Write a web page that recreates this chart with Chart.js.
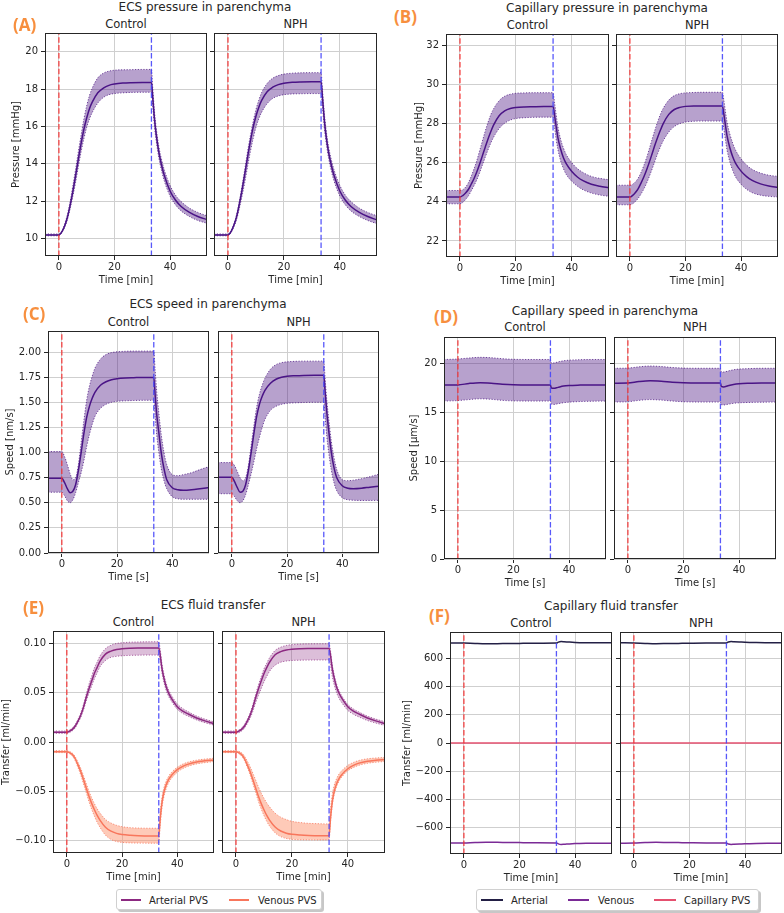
<!DOCTYPE html>
<html>
<head>
<meta charset="utf-8">
<title>Parenchyma pressure, speed and fluid transfer</title>
<script src="https://cdn.jsdelivr.net/npm/chart.js@4.4.1/dist/chart.umd.min.js"></script>
<style>
  body { margin: 0; background: #fff; font-family: 'DejaVu Sans', sans-serif; color: #262626; }
  #fig { position: relative; width: 784px; height: 913px; overflow: hidden; background: #fff; }
  canvas { position: absolute; }
  .txt { position: absolute; white-space: nowrap; transform: translate(-50%, -50%); }
  .title { font-size: 12px; }
  .sub { font-size: 11.5px; }
  .letter { font-family: 'Open Sans', sans-serif; font-weight: 700; font-size: 17px; color: #f78f3e; transform: translate(0, -50%); }
  .legend { position: absolute; background: #fff; border: 1px solid #d0d0d0; border-radius: 3px; box-shadow: 2px 2px 0 rgba(0,0,0,0.22); font-size: 10px; }
  .legend .sw { position: absolute; height: 2px; top: 50%; margin-top: -1px; }
  .legend .lab { position: absolute; top: 50%; transform: translate(0, -50%); white-space: nowrap; }
</style>
</head>
<body>
<div id="fig"></div>
<script>
// time grid (min or s) shared by panels A, B, C, E
const T = [-5, 0, 1, 2, 3, 4, 5, 6, 7, 8, 9, 10, 11, 12,
           14, 16, 18, 20, 23, 26, 30, 33.3,
           33.8, 34.4, 35, 36, 37, 38, 40, 42, 44, 47, 50, 53.3];
const T_D = [-5, 0, 4, 8, 12, 16, 20, 26, 33.3, 33.6, 34.5, 36, 38, 40, 44, 48, 53.3];
const T_F = [-5, 0, 4, 8, 12, 16, 20, 26, 33.3, 34, 35, 36, 38, 40, 44, 48, 53.3];

const STIM_ON = 0;
const STIM_OFF = 33.3;
const X_RANGE = [-5, 53.3];
const X_TICKS = [0, 20, 40];

// (A) ECS pressure [mmHg]
const A_Y_RANGE = [9.07, 21.0];
const A_Y_TICKS = [10, 12, 14, 16, 18, 20];
const A_CTRL_MEAN = [10.2, 10.2, 10.35, 10.65, 11.1, 11.75, 12.5, 13.35, 14.25, 15.1, 15.85, 16.45, 16.95, 17.3,
  17.8, 18.05, 18.2, 18.27, 18.32, 18.34, 18.35, 18.35,
  17.5, 16.4, 15.6, 14.6, 13.9, 13.35, 12.55, 12.05, 11.72, 11.4, 11.18, 11.02];
const A_CTRL_UP = [10.25, 10.25, 10.4, 10.75, 11.25, 11.95, 12.8, 13.7, 14.65, 15.55, 16.4, 17.1, 17.65, 18.05,
  18.6, 18.85, 18.96, 19.01, 19.03, 19.04, 19.05, 19.05,
  18.0, 16.8, 15.95, 14.9, 14.2, 13.65, 12.85, 12.32, 11.98, 11.63, 11.4, 11.22];
const A_CTRL_LO = [10.15, 10.15, 10.3, 10.58, 10.98, 11.57, 12.25, 13.0, 13.85, 14.65, 15.35, 15.95, 16.4, 16.75,
  17.25, 17.55, 17.7, 17.76, 17.8, 17.82, 17.83, 17.83,
  17.05, 16.0, 15.25, 14.3, 13.6, 13.05, 12.28, 11.8, 11.48, 11.18, 10.97, 10.82];
const A_NPH_MEAN = [10.2, 10.2, 10.35, 10.67, 11.12, 11.8, 12.58, 13.45, 14.35, 15.2, 15.95, 16.55, 17.02, 17.38,
  17.86, 18.1, 18.24, 18.31, 18.36, 18.38, 18.39, 18.39,
  17.55, 16.45, 15.6, 14.6, 13.9, 13.35, 12.55, 12.05, 11.72, 11.4, 11.18, 11.0];
const A_NPH_UP = [10.25, 10.25, 10.4, 10.75, 11.25, 11.95, 12.8, 13.7, 14.65, 15.5, 16.25, 16.9, 17.4, 17.8,
  18.3, 18.58, 18.72, 18.8, 18.85, 18.87, 18.88, 18.88,
  17.95, 16.8, 15.95, 14.9, 14.2, 13.65, 12.85, 12.32, 11.98, 11.63, 11.4, 11.22];
const A_NPH_LO = [10.15, 10.15, 10.3, 10.58, 10.98, 11.57, 12.25, 13.0, 13.85, 14.65, 15.35, 15.95, 16.4, 16.75,
  17.22, 17.5, 17.63, 17.7, 17.74, 17.75, 17.76, 17.76,
  17.05, 16.0, 15.25, 14.3, 13.6, 13.05, 12.28, 11.8, 11.48, 11.18, 10.97, 10.8];

// (B) capillary pressure [mmHg]
const B_Y_RANGE = [21.18, 32.58];
const B_Y_TICKS = [22, 24, 26, 28, 30, 32];
const B_CTRL_MEAN = [24.25, 24.25, 24.32, 24.45, 24.63, 24.9, 25.18, 25.52, 25.92, 26.35, 26.78, 27.2, 27.58, 27.92,
  28.4, 28.65, 28.77, 28.82, 28.85, 28.86, 28.87, 28.87,
  28.45, 27.85, 27.3, 26.7, 26.25, 25.95, 25.55, 25.27, 25.08, 24.9, 24.8, 24.72];
const B_CTRL_UP = [24.58, 24.58, 24.62, 24.75, 24.98, 25.3, 25.68, 26.1, 26.6, 27.1, 27.6, 28.05, 28.45, 28.75,
  29.17, 29.4, 29.5, 29.55, 29.57, 29.58, 29.58, 29.58,
  29.1, 28.45, 27.85, 27.2, 26.75, 26.42, 26.0, 25.7, 25.5, 25.3, 25.2, 25.13];
const B_CTRL_LO = [23.9, 23.9, 23.97, 24.12, 24.3, 24.55, 24.82, 25.12, 25.48, 25.87, 26.27, 26.65, 27.0, 27.3,
  27.75, 28.02, 28.18, 28.26, 28.3, 28.32, 28.33, 28.33,
  27.85, 27.2, 26.7, 26.1, 25.7, 25.4, 25.05, 24.8, 24.62, 24.45, 24.35, 24.28];
const B_NPH_MEAN = [24.25, 24.25, 24.33, 24.48, 24.68, 24.96, 25.27, 25.63, 26.03, 26.46, 26.9, 27.3, 27.67, 28.0,
  28.47, 28.72, 28.83, 28.88, 28.9, 28.9, 28.9, 28.9,
  28.5, 27.9, 27.35, 26.75, 26.3, 25.98, 25.57, 25.29, 25.1, 24.92, 24.81, 24.73];
const B_NPH_UP = [24.85, 24.85, 24.9, 25.02, 25.22, 25.5, 25.85, 26.25, 26.72, 27.2, 27.67, 28.1, 28.48, 28.78,
  29.2, 29.43, 29.53, 29.57, 29.59, 29.6, 29.6, 29.6,
  29.2, 28.6, 28.05, 27.45, 27.0, 26.65, 26.2, 25.88, 25.66, 25.47, 25.36, 25.3];
const B_NPH_LO = [23.85, 23.85, 23.9, 24.02, 24.18, 24.4, 24.65, 24.95, 25.3, 25.68, 26.08, 26.47, 26.82, 27.12,
  27.57, 27.85, 28.0, 28.08, 28.12, 28.13, 28.13, 28.13,
  27.75, 27.15, 26.62, 26.03, 25.6, 25.28, 24.9, 24.64, 24.47, 24.34, 24.28, 24.25];

// (C) ECS speed [nm/s]
const C_Y_RANGE = [0, 2.21];
const C_Y_TICKS = [0, 0.25, 0.5, 0.75, 1.0, 1.25, 1.5, 1.75, 2.0];
const C_CTRL_MEAN = [0.745, 0.745, 0.7, 0.64, 0.6, 0.615, 0.68, 0.82, 1.0, 1.19, 1.35, 1.46, 1.54, 1.6,
  1.67, 1.705, 1.725, 1.735, 1.742, 1.745, 1.748, 1.748,
  1.57, 1.37, 1.23, 1.0, 0.84, 0.73, 0.65, 0.63, 0.625, 0.63, 0.64, 0.652];
const C_CTRL_UP = [1.01, 1.01, 0.96, 0.88, 0.79, 0.73, 0.75, 0.88, 1.1, 1.32, 1.52, 1.66, 1.76, 1.84,
  1.93, 1.975, 1.995, 2.003, 2.008, 2.01, 2.01, 2.01,
  1.82, 1.6, 1.43, 1.18, 1.0, 0.88, 0.78, 0.77, 0.78, 0.8, 0.83, 0.86];
const C_CTRL_LO = [0.605, 0.605, 0.57, 0.52, 0.5, 0.53, 0.6, 0.7, 0.8, 0.92, 1.06, 1.18, 1.28, 1.36,
  1.44, 1.48, 1.5, 1.51, 1.515, 1.518, 1.52, 1.52,
  1.36, 1.17, 1.03, 0.84, 0.72, 0.64, 0.56, 0.54, 0.535, 0.535, 0.535, 0.535];
const C_NPH_MEAN = [0.755, 0.755, 0.71, 0.65, 0.605, 0.615, 0.68, 0.82, 1.0, 1.19, 1.36, 1.48, 1.56, 1.62,
  1.69, 1.73, 1.75, 1.76, 1.765, 1.768, 1.77, 1.77,
  1.6, 1.4, 1.24, 1.01, 0.85, 0.75, 0.67, 0.645, 0.64, 0.645, 0.655, 0.665];
const C_NPH_UP = [0.9, 0.9, 0.87, 0.81, 0.75, 0.72, 0.75, 0.87, 1.07, 1.27, 1.45, 1.58, 1.67, 1.74,
  1.83, 1.875, 1.895, 1.903, 1.908, 1.91, 1.91, 1.91,
  1.73, 1.52, 1.36, 1.12, 0.95, 0.83, 0.73, 0.72, 0.725, 0.74, 0.76, 0.785];
const C_NPH_LO = [0.59, 0.59, 0.56, 0.52, 0.5, 0.52, 0.58, 0.68, 0.79, 0.91, 1.04, 1.15, 1.25, 1.33,
  1.42, 1.46, 1.48, 1.49, 1.495, 1.498, 1.5, 1.5,
  1.35, 1.16, 1.02, 0.83, 0.7, 0.62, 0.55, 0.53, 0.525, 0.523, 0.523, 0.524];

// (D) capillary speed [um/s]
const D_Y_RANGE = [0, 22.7];
const D_Y_TICKS = [0, 5, 10, 15, 20];
const D_CTRL_MEAN = [17.8, 17.8, 17.95, 18.03, 17.98, 17.88, 17.82, 17.8, 17.8, 17.5, 17.45, 17.55, 17.68, 17.74, 17.78, 17.8, 17.8];
const D_CTRL_UP = [20.4, 20.45, 20.55, 20.62, 20.58, 20.48, 20.42, 20.4, 20.4, 20.05, 20.05, 20.15, 20.27, 20.33, 20.38, 20.4, 20.4];
const D_CTRL_LO = [16.15, 16.2, 16.3, 16.38, 16.33, 16.22, 16.17, 16.15, 16.15, 15.85, 15.8, 15.88, 15.98, 16.04, 16.1, 16.13, 16.15];
const D_NPH_MEAN = [17.98, 18.0, 18.15, 18.23, 18.18, 18.08, 18.02, 18.0, 18.0, 17.65, 17.6, 17.72, 17.85, 17.92, 17.97, 18.0, 18.0];
const D_NPH_UP = [19.5, 19.52, 19.65, 19.73, 19.68, 19.58, 19.52, 19.5, 19.5, 19.15, 19.12, 19.22, 19.35, 19.42, 19.47, 19.5, 19.5];
const D_NPH_LO = [16.05, 16.08, 16.22, 16.3, 16.25, 16.15, 16.08, 16.05, 16.05, 15.78, 15.75, 15.82, 15.92, 15.97, 16.01, 16.03, 16.05];

// (E) ECS fluid transfer [ml/min]
const E_Y_RANGE = [-0.113, 0.113];
const E_Y_TICKS = [-0.1, -0.05, 0, 0.05, 0.1];
const E_CTRL_ART_MEAN = [0.01, 0.01, 0.011, 0.0128, 0.016, 0.021, 0.027, 0.035, 0.045, 0.054, 0.062, 0.07, 0.076, 0.082,
  0.0895, 0.0925, 0.0942, 0.095, 0.0955, 0.0957, 0.0958, 0.0958,
  0.089, 0.076, 0.067, 0.056, 0.049, 0.044, 0.036, 0.0315, 0.0285, 0.0245, 0.0215, 0.0188];
const E_CTRL_ART_UP = [0.0112, 0.0112, 0.0123, 0.0142, 0.0177, 0.0228, 0.0293, 0.0378, 0.0485, 0.0585, 0.067, 0.0755, 0.0815, 0.0875,
  0.095, 0.0985, 0.1003, 0.101, 0.1016, 0.1018, 0.102, 0.102,
  0.0945, 0.0805, 0.0713, 0.0597, 0.0523, 0.047, 0.0388, 0.034, 0.0308, 0.0265, 0.0233, 0.0205];
const E_CTRL_ART_LO = [0.0088, 0.0088, 0.0097, 0.0114, 0.0143, 0.0192, 0.0247, 0.0322, 0.0415, 0.0495, 0.057, 0.0645, 0.0705, 0.0765,
  0.083, 0.0862, 0.0872, 0.0878, 0.0882, 0.0884, 0.0885, 0.0885,
  0.0835, 0.0715, 0.0628, 0.0523, 0.0457, 0.041, 0.0333, 0.029, 0.0262, 0.0225, 0.0197, 0.0172];
const E_CTRL_VEN_MEAN = [-0.0098, -0.0098, -0.0108, -0.0128, -0.0168, -0.023, -0.0298, -0.038, -0.0465, -0.055, -0.0625, -0.069, -0.0748, -0.0795,
  -0.0868, -0.0908, -0.093, -0.0942, -0.095, -0.0954, -0.0956, -0.0956,
  -0.079, -0.063, -0.053, -0.0435, -0.0375, -0.0337, -0.0282, -0.0248, -0.0225, -0.0204, -0.0192, -0.0182];
const E_CTRL_VEN_UP = [-0.0088, -0.0088, -0.0096, -0.0113, -0.0148, -0.0203, -0.0265, -0.034, -0.042, -0.0498, -0.0568, -0.0628, -0.068, -0.0722,
  -0.0788, -0.0825, -0.0848, -0.0862, -0.0872, -0.0876, -0.0878, -0.0878,
  -0.0725, -0.0578, -0.0485, -0.0398, -0.0343, -0.0307, -0.0257, -0.0225, -0.0204, -0.0185, -0.0174, -0.0165];
const E_CTRL_VEN_LO = [-0.0108, -0.0108, -0.012, -0.0143, -0.0188, -0.0257, -0.0332, -0.0422, -0.0512, -0.0605, -0.0685, -0.0755, -0.0818, -0.0868,
  -0.0948, -0.0992, -0.1013, -0.1022, -0.1027, -0.1029, -0.103, -0.103,
  -0.0855, -0.0683, -0.0577, -0.0473, -0.0408, -0.0367, -0.0307, -0.0271, -0.0246, -0.0223, -0.021, -0.0199];
const E_NPH_ART_MEAN = [0.01, 0.01, 0.011, 0.0128, 0.016, 0.021, 0.027, 0.035, 0.0448, 0.0538, 0.0618, 0.0695, 0.0757, 0.0812,
  0.0888, 0.092, 0.0937, 0.0945, 0.095, 0.0952, 0.0953, 0.0953,
  0.0885, 0.0757, 0.0668, 0.0558, 0.0489, 0.0439, 0.036, 0.0315, 0.0285, 0.0245, 0.0215, 0.0188];
const E_NPH_ART_UP = [0.0112, 0.0112, 0.0123, 0.0142, 0.0177, 0.0228, 0.0292, 0.0376, 0.048, 0.0578, 0.0662, 0.0743, 0.0802, 0.0858,
  0.0932, 0.0965, 0.0983, 0.0991, 0.0997, 0.0999, 0.1, 0.1,
  0.0928, 0.0793, 0.0702, 0.0588, 0.0515, 0.0463, 0.0382, 0.0336, 0.0305, 0.0264, 0.0233, 0.0206];
const E_NPH_ART_LO = [0.0088, 0.0088, 0.0096, 0.0112, 0.014, 0.0186, 0.0239, 0.031, 0.0398, 0.0473, 0.0543, 0.0612, 0.0668, 0.072,
  0.0782, 0.0812, 0.0824, 0.083, 0.0833, 0.0834, 0.0835, 0.0835,
  0.0788, 0.0676, 0.0597, 0.0501, 0.0438, 0.0394, 0.0322, 0.0282, 0.0255, 0.0219, 0.0193, 0.0168];
const E_NPH_VEN_MEAN = [-0.0098, -0.0098, -0.0108, -0.0128, -0.0168, -0.023, -0.0298, -0.038, -0.0465, -0.055, -0.0625, -0.069, -0.0748, -0.0795,
  -0.0866, -0.0906, -0.0928, -0.094, -0.0948, -0.0952, -0.0954, -0.0954,
  -0.078, -0.062, -0.052, -0.0425, -0.0365, -0.0327, -0.0272, -0.0238, -0.0215, -0.0196, -0.0186, -0.0178];
const E_NPH_VEN_UP = [-0.0088, -0.0088, -0.0095, -0.011, -0.0142, -0.0192, -0.0248, -0.0315, -0.0385, -0.0455, -0.0518, -0.0572, -0.062, -0.066,
  -0.0725, -0.0765, -0.079, -0.0808, -0.082, -0.0828, -0.0832, -0.0834,
  -0.0682, -0.0542, -0.0455, -0.0372, -0.032, -0.0287, -0.0238, -0.0208, -0.0188, -0.0171, -0.0163, -0.0157];
const E_NPH_VEN_LO = [-0.0108, -0.0108, -0.012, -0.0143, -0.0188, -0.0255, -0.033, -0.042, -0.051, -0.0602, -0.068, -0.0748, -0.0808, -0.0855,
  -0.0925, -0.0963, -0.0982, -0.0991, -0.0995, -0.0996, -0.0997, -0.0997,
  -0.0818, -0.0655, -0.0552, -0.0453, -0.039, -0.035, -0.0293, -0.026, -0.0237, -0.0217, -0.0206, -0.0198];

// (F) capillary fluid transfer [ml/min]
const F_Y_RANGE = [-790, 790];
const F_Y_TICKS = [-600, -400, -200, 0, 200, 400, 600];
const F_CTRL_ART = [712, 711, 708, 706, 707, 708, 709, 710, 711, 718, 722, 721, 718, 716, 714, 713, 713];
const F_CTRL_VEN = [-712, -711, -708, -706, -707, -708, -709, -710, -711, -718, -722, -721, -718, -716, -714, -713, -713];
const F_CTRL_CAP = [0, 0, 0, 0, 0, 0, 0, 0, 0, 0, 0, 0, 0, 0, 0, 0, 0];
const F_NPH_ART = [713, 712, 709, 707, 708, 709, 710, 711, 712, 719, 722, 721, 719, 717, 715, 714, 714];
const F_NPH_VEN = [-713, -712, -709, -707, -708, -709, -710, -711, -712, -719, -722, -721, -719, -717, -715, -714, -714];
const F_NPH_CAP = [0, 0, 0, 0, 0, 0, 0, 0, 0, 0, 0, 0, 0, 0, 0, 0, 0];

// colours
const INK = '#262626';
const GRID = '#cfcfcf';
const PURPLE = { line: '#4a1486', edge: 'rgba(75,20,130,0.75)', fill: 'rgba(75,20,130,0.4)' };
const ART = { line: '#8c2981', edge: 'rgba(140,41,129,0.7)', fill: 'rgba(140,41,129,0.3)' };
const VEN = { line: '#f8765c', edge: 'rgba(248,118,92,0.8)', fill: 'rgba(252,137,97,0.45)' };
const F_COLORS = { art: '#231f45', ven: '#7a2a96', cap: '#e5506f' };

Chart.defaults.font.family = "'DejaVu Sans', sans-serif";
Chart.defaults.font.size = 10;
Chart.defaults.color = INK;

const fig = document.getElementById('fig');

// full box round every axes, like matplotlib spines
const framePlugin = {
    id: 'frame',
    afterDraw(chart) {
        const { ctx, chartArea: a } = chart;
        ctx.save();
        ctx.strokeStyle = INK;
        ctx.lineWidth = 1;
        ctx.strokeRect(Math.round(a.left) + 0.5, Math.round(a.top) + 0.5,
            Math.round(a.right - a.left) - 1, Math.round(a.bottom - a.top) - 1);
        ctx.restore();
    }
};

function pts(t, v) {
    return t.map((x, i) => ({ x: x, y: v[i] }));
}

function fmt(v, d) {
    const s = Math.abs(v).toFixed(d);
    return v < 0 ? '\u2212' + s : s;
}

function stimLines(yr) {
    return [
        { data: [{ x: STIM_ON, y: yr[0] }, { x: STIM_ON, y: yr[1] }], borderColor: 'rgba(245,50,50,0.9)',
          borderDash: [5.5, 2.4], borderWidth: 1.3, order: 0 },
        { data: [{ x: STIM_OFF, y: yr[0] }, { x: STIM_OFF, y: yr[1] }], borderColor: 'rgba(70,70,250,0.9)',
          borderDash: [5.5, 2.4], borderWidth: 1.3, order: 0 }
    ];
}

function band(t, mean, up, lo, c) {
    return [
        { data: pts(t, mean), borderColor: c.line, borderWidth: 1.5, cubicInterpolationMode: 'monotone', order: 1 },
        { data: pts(t, up), borderColor: c.edge, borderWidth: 1, borderDash: [1.2, 1.6], backgroundColor: c.fill,
          fill: '+1', cubicInterpolationMode: 'monotone', order: 2 },
        { data: pts(t, lo), borderColor: c.edge, borderWidth: 1, borderDash: [1.2, 1.6], fill: false,
          cubicInterpolationMode: 'monotone', order: 3 }
    ];
}

function line(t, v, color) {
    return { data: pts(t, v), borderColor: color, borderWidth: 1.5, cubicInterpolationMode: 'monotone', order: 1 };
}

function addText(text, x, y, cls) {
    const d = document.createElement('div');
    d.className = 'txt ' + cls;
    d.textContent = text;
    d.style.left = x + 'px';
    d.style.top = y + 'px';
    fig.appendChild(d);
}

function makePlot(box, yw, p, datasets, showY) {
    const [l, t, r, b] = box;
    const W = showY ? yw : 5;
    const H = 30;
    const cw = (r - l) + W + 2;
    const ch = (b - t) + H + 2;
    const canvas = document.createElement('canvas');
    canvas.width = cw;
    canvas.height = ch;
    canvas.style.left = (l - W) + 'px';
    canvas.style.top = (t - 2) + 'px';
    canvas.style.width = cw + 'px';
    canvas.style.height = ch + 'px';
    fig.appendChild(canvas);

    new Chart(canvas, {
        type: 'line',
        data: { datasets: datasets },
        options: {
            responsive: false,
            animation: false,
            devicePixelRatio: 1,
            layout: { padding: { top: 2, right: 2, left: 0, bottom: 0 } },
            elements: { point: { radius: 0 }, line: { tension: 0 } },
            plugins: {
                legend: { display: false },
                tooltip: { enabled: false },
                filler: { drawTime: 'beforeDatasetsDraw' }
            },
            scales: {
                x: {
                    type: 'linear', min: X_RANGE[0], max: X_RANGE[1],
                    afterBuildTicks: s => { s.ticks = X_TICKS.map(v => ({ value: v })); },
                    afterFit: s => { s.height = H; s.paddingLeft = 0; s.paddingRight = 0; },
                    grid: { color: GRID, tickColor: INK, tickLength: 4, lineWidth: 1 },
                    border: { display: false },
                    ticks: { padding: 1, maxRotation: 0, autoSkip: false, color: INK, callback: v => fmt(v, 0) },
                    title: { display: true, text: p.xtitle, color: INK, font: { size: 10 }, padding: 0 }
                },
                y: {
                    type: 'linear', min: p.yr[0], max: p.yr[1],
                    afterBuildTicks: s => { s.ticks = p.yt.map(v => ({ value: v })); },
                    afterFit: s => { s.width = W; s.paddingTop = 0; s.paddingBottom = 0; },
                    grid: { color: GRID, tickColor: INK, tickLength: 4, lineWidth: 1 },
                    border: { display: false },
                    ticks: { display: showY, padding: 3, autoSkip: false, color: INK, callback: v => fmt(v, p.dec) },
                    title: { display: showY, text: p.ytitle, color: INK, font: { size: 10 }, padding: 0 }
                }
            }
        },
        plugins: [framePlugin]
    });
}

// panel layout: plot boxes [left, top, right, bottom] in page pixels
const PANELS = [
    { letter: '(A)', letterAt: [13, 24], title: 'ECS pressure in parenchyma', titleAt: [205, 7], subY: 24,
      ctrl: [45, 33, 207, 256], nph: [214, 33, 377, 256], yw: 35,
      yr: A_Y_RANGE, yt: A_Y_TICKS, dec: 0, ytitle: 'Pressure [mmHg]', xtitle: 'Time [min]',
      ctrlSets: band(T, A_CTRL_MEAN, A_CTRL_UP, A_CTRL_LO, PURPLE),
      nphSets: band(T, A_NPH_MEAN, A_NPH_UP, A_NPH_LO, PURPLE) },
    { letter: '(B)', letterAt: [394, 16], title: 'Capillary pressure in parenchyma', titleAt: [607, 8], subY: 25,
      ctrl: [446, 34, 609, 257], nph: [616, 34, 778, 257], yw: 33,
      yr: B_Y_RANGE, yt: B_Y_TICKS, dec: 0, ytitle: 'Pressure [mmHg]', xtitle: 'Time [min]',
      ctrlSets: band(T, B_CTRL_MEAN, B_CTRL_UP, B_CTRL_LO, PURPLE),
      nphSets: band(T, B_NPH_MEAN, B_NPH_UP, B_NPH_LO, PURPLE) },
    { letter: '(C)', letterAt: [23, 313], title: 'ECS speed in parenchyma', titleAt: [208, 304], subY: 322,
      ctrl: [48, 331, 209, 553], nph: [218, 331, 379, 553], yw: 44,
      yr: C_Y_RANGE, yt: C_Y_TICKS, dec: 2, ytitle: 'Speed [nm/s]', xtitle: 'Time [s]',
      ctrlSets: band(T, C_CTRL_MEAN, C_CTRL_UP, C_CTRL_LO, PURPLE),
      nphSets: band(T, C_NPH_MEAN, C_NPH_UP, C_NPH_LO, PURPLE) },
    { letter: '(D)', letterAt: [434, 316], title: 'Capillary speed in parenchyma', titleAt: [605, 311], subY: 327,
      ctrl: [444, 337, 606, 559], nph: [614, 337, 776, 559], yw: 36,
      yr: D_Y_RANGE, yt: D_Y_TICKS, dec: 0, ytitle: 'Speed [\u03bcm/s]', xtitle: 'Time [s]',
      ctrlSets: band(T_D, D_CTRL_MEAN, D_CTRL_UP, D_CTRL_LO, PURPLE),
      nphSets: band(T_D, D_NPH_MEAN, D_NPH_UP, D_NPH_LO, PURPLE) },
    { letter: '(E)', letterAt: [23, 607], title: 'ECS fluid transfer', titleAt: [213, 605], subY: 622,
      ctrl: [53, 631, 214, 853], nph: [222, 631, 385, 853], yw: 53,
      yr: E_Y_RANGE, yt: E_Y_TICKS, dec: 2, ytitle: 'Transfer [ml/min]', xtitle: 'Time [min]',
      ctrlSets: band(T, E_CTRL_ART_MEAN, E_CTRL_ART_UP, E_CTRL_ART_LO, ART)
          .concat(band(T, E_CTRL_VEN_MEAN, E_CTRL_VEN_UP, E_CTRL_VEN_LO, VEN)),
      nphSets: band(T, E_NPH_ART_MEAN, E_NPH_ART_UP, E_NPH_ART_LO, ART)
          .concat(band(T, E_NPH_VEN_MEAN, E_NPH_VEN_UP, E_NPH_VEN_LO, VEN)) },
    { letter: '(F)', letterAt: [429, 615], title: 'Capillary fluid transfer', titleAt: [611, 606], subY: 623,
      ctrl: [450, 632, 612, 854], nph: [620, 632, 782, 854], yw: 49,
      yr: F_Y_RANGE, yt: F_Y_TICKS, dec: 0, ytitle: 'Transfer [ml/min]', xtitle: 'Time [min]',
      ctrlSets: [line(T_F, F_CTRL_ART, F_COLORS.art), line(T_F, F_CTRL_VEN, F_COLORS.ven), line(T_F, F_CTRL_CAP, F_COLORS.cap)],
      nphSets: [line(T_F, F_NPH_ART, F_COLORS.art), line(T_F, F_NPH_VEN, F_COLORS.ven), line(T_F, F_NPH_CAP, F_COLORS.cap)] }
];

PANELS.forEach(p => {
    makePlot(p.ctrl, p.yw, p, stimLines(p.yr).concat(p.ctrlSets), true);
    makePlot(p.nph, p.yw, p, stimLines(p.yr).concat(p.nphSets), false);
    addText(p.title, p.titleAt[0], p.titleAt[1], 'title');
    addText('Control', (p.ctrl[0] + p.ctrl[2]) / 2, p.subY, 'sub');
    addText('NPH', (p.nph[0] + p.nph[2]) / 2, p.subY, 'sub');
    addText(p.letter, p.letterAt[0], p.letterAt[1], 'letter');
});

// legends under E and F
function addLegend(box, items) {
    const lg = document.createElement('div');
    lg.className = 'legend';
    lg.style.left = box[0] + 'px';
    lg.style.top = box[1] + 'px';
    lg.style.width = box[2] + 'px';
    lg.style.height = box[3] + 'px';
    items.forEach(it => {
        const sw = document.createElement('div');
        sw.className = 'sw';
        sw.style.left = it.x + 'px';
        sw.style.width = it.w + 'px';
        sw.style.background = it.color;
        lg.appendChild(sw);
        const lab = document.createElement('div');
        lab.className = 'lab';
        lab.style.left = it.tx + 'px';
        lab.textContent = it.text;
        lg.appendChild(lab);
    });
    fig.appendChild(lg);
}

addLegend([116, 889, 204, 19], [
    { x: 4, w: 20, tx: 32, color: ART.line, text: 'Arterial PVS' },
    { x: 112, w: 20, tx: 141, color: VEN.line, text: 'Venous PVS' }
]);
addLegend([476, 889, 281, 20], [
    { x: 4, w: 22, tx: 34, color: F_COLORS.art, text: 'Arterial' },
    { x: 91, w: 21, tx: 121, color: F_COLORS.ven, text: 'Venous' },
    { x: 177, w: 22, tx: 207, color: F_COLORS.cap, text: 'Capillary PVS' }
]);
</script>
</body>
</html>
